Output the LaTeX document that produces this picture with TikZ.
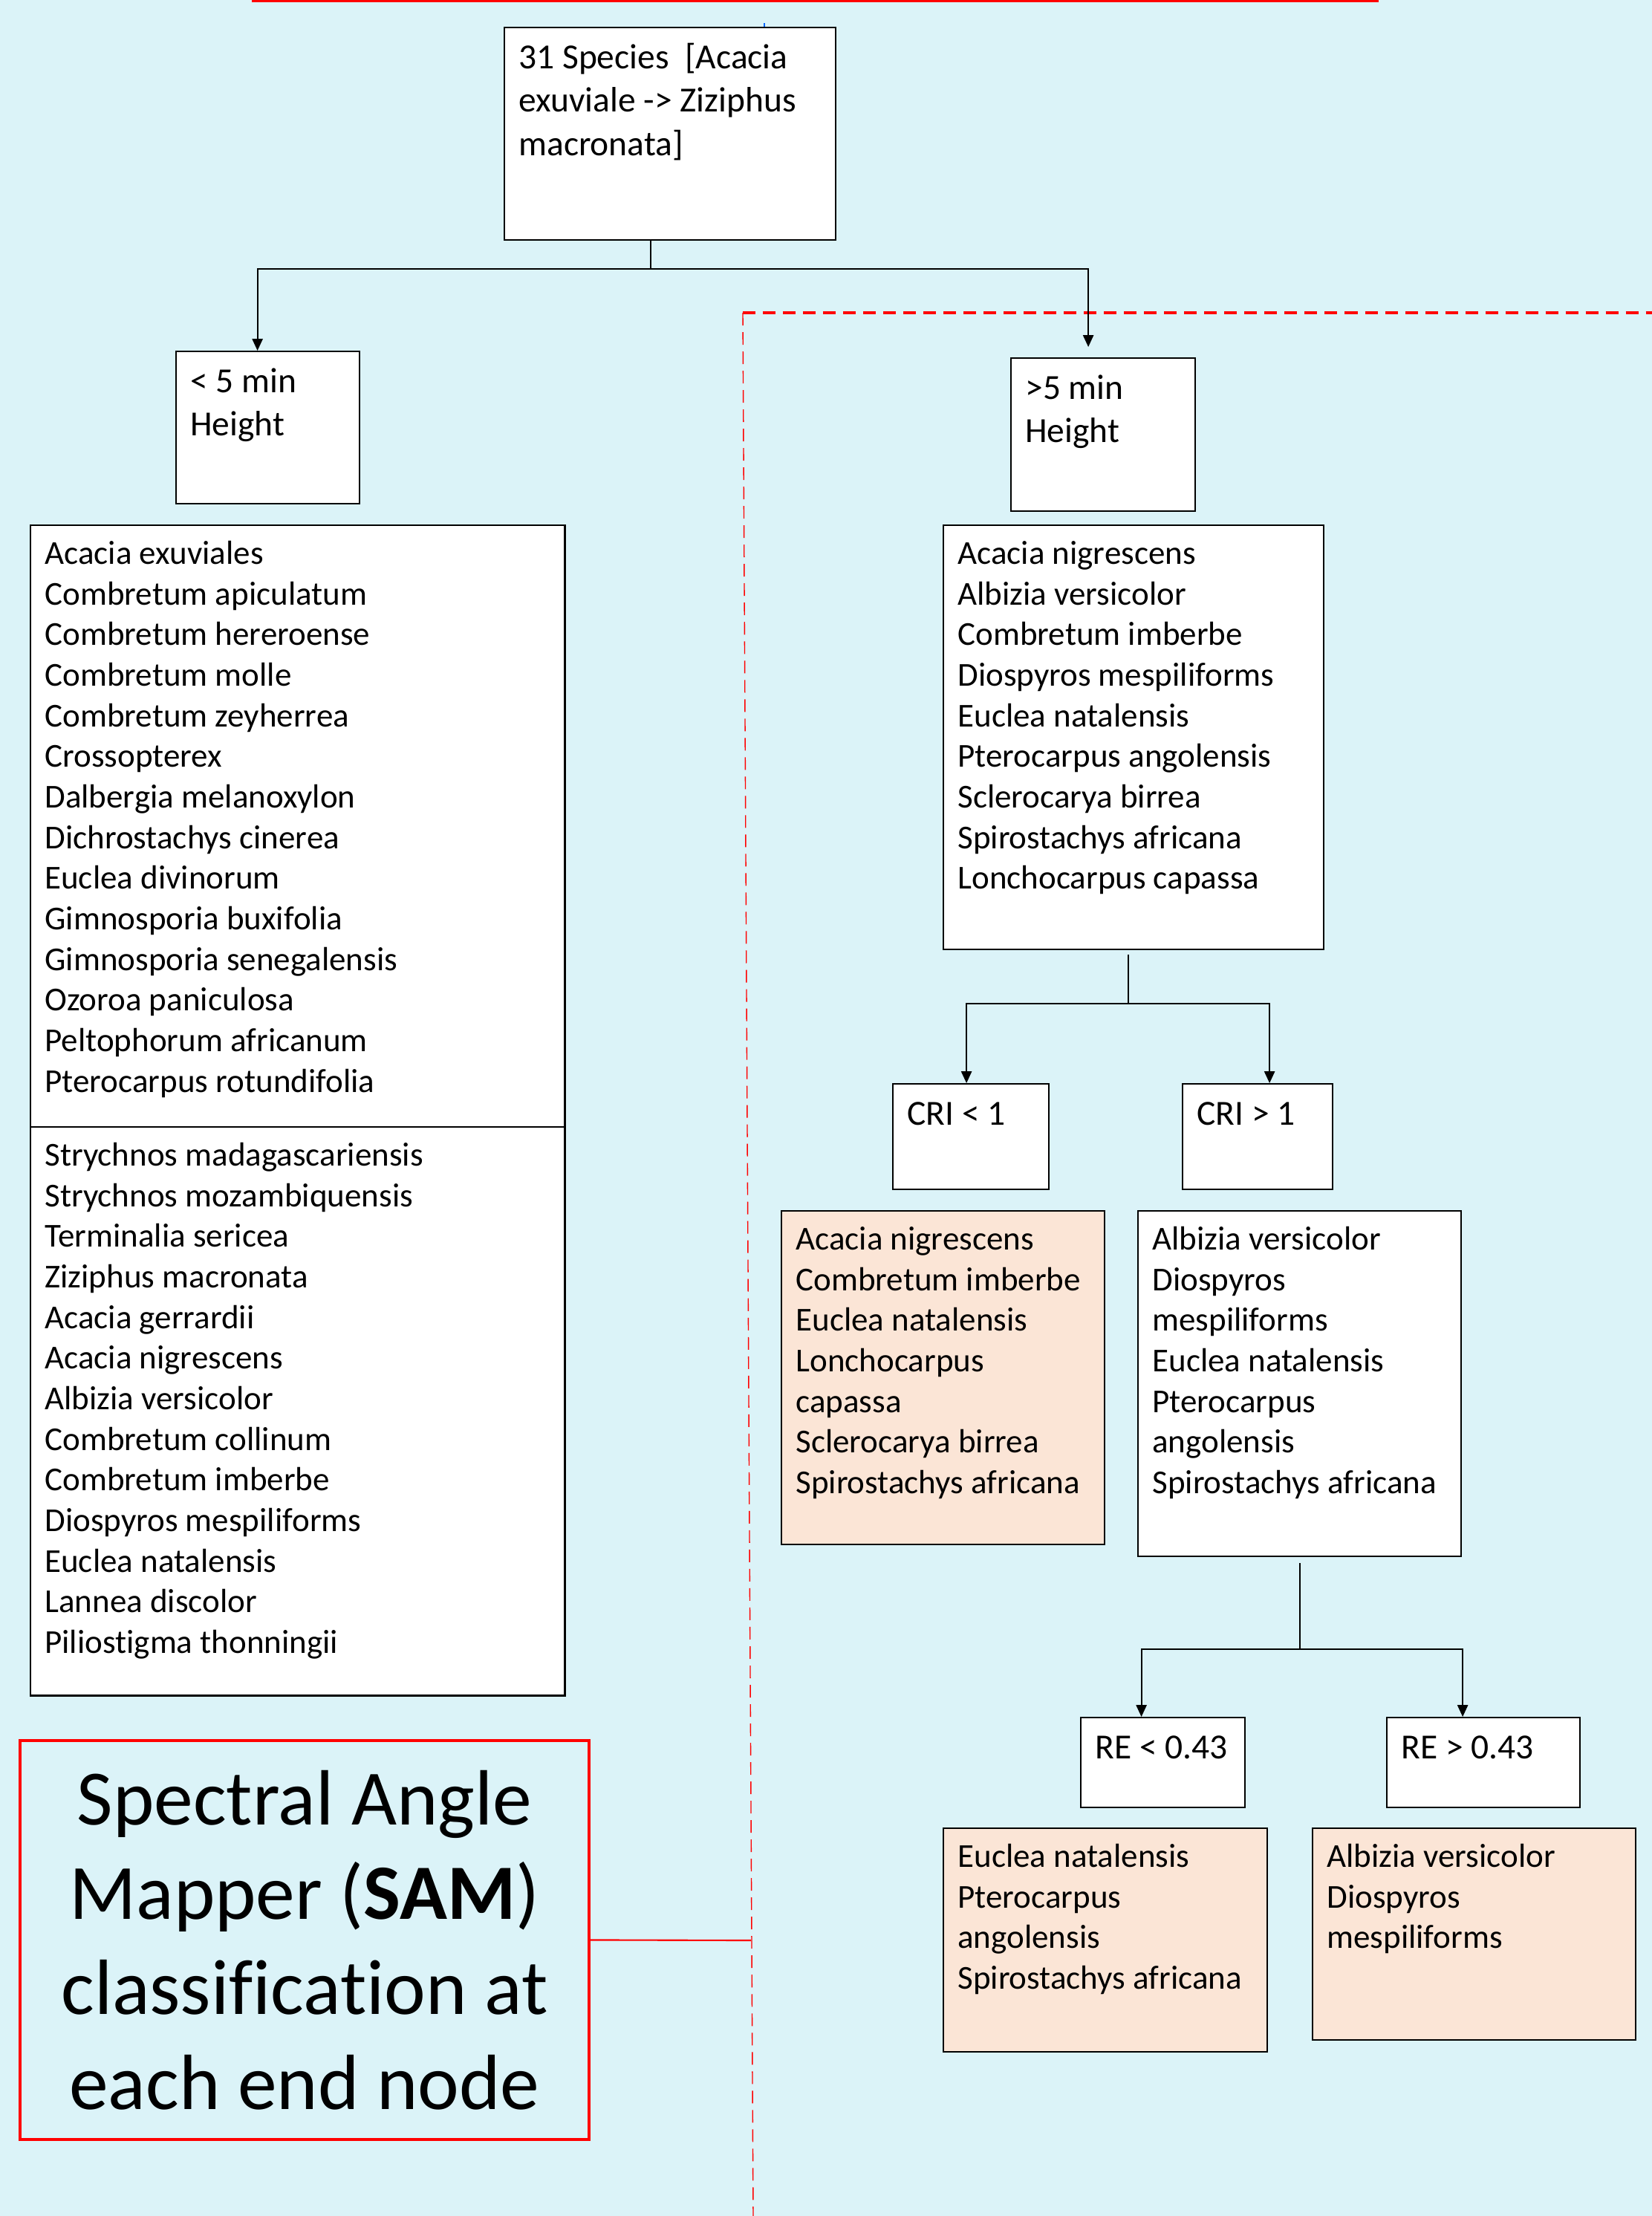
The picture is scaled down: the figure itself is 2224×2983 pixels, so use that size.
\documentclass[tikz,border=0pt]{standalone}
\usepackage{fontspec}
\setmainfont{Carlito}[Ligatures={TeX,NoCommon}]
\usetikzlibrary{arrows.meta}
\definecolor{bgcyan}{RGB}{219,243,248}
\definecolor{peach}{RGB}{251,229,214}
% top aligned text inside a box of given width and height (cm)
\newcommand{\boxtext}[3]{\parbox[t][\dimexpr#2cm-8pt\relax][t]{\dimexpr#1cm-11pt\relax}{\raggedright\strut#3}}

\begin{document}
\begin{tikzpicture}[x=0.01cm, y=-0.01cm,
  box/.style={draw, fill=white, anchor=north west, inner xsep=5.5pt, inner ysep=4pt, line width=0.6pt},
  lst/.style={font=\fontsize{12.8}{15.55}\selectfont},
  hdr/.style={font=\fontsize{13.5}{16.7}\selectfont},
  arr/.style={-{Triangle[length=4.5pt,width=4pt]}, line width=0.6pt}]
  \fill[bgcyan] (0,0) rectangle (2224,2983);
  \useasboundingbox (0,0) rectangle (2224,2983);

  \draw[red, line width=1.2pt] (339,1) -- (1856,1);
  \draw[blue!60!cyan, line width=0.3pt] (1029,31) -- (1029,36);

  % red region of the tall trees
  \draw[red, line width=1.4pt, dash pattern=on 0.17cm off 0.1cm] (1000,421) -- (2224,421);
  \draw[red, line width=0.4pt, dash pattern=on 0.17cm off 0.09cm] (1000,421) -- (1014,2983);

  \node[box, hdr] (root) at (678,36) {\boxtext{4.46}{2.86}{31 Species\ \ [Acacia\\exuviale -> Ziziphus\\macronata]}};
  \node[box, hdr] (lt) at (236,472) {\boxtext{2.47}{2.05}{< 5 min\\Height}};
  \node[box, hdr] (rt) at (1360,481) {\boxtext{2.48}{2.06}{>5 min\\Height}};

  \node[box, lst] (lista) at (40,706) {\boxtext{7.19}{8.10}{Acacia exuviales\\Combretum apiculatum\\Combretum hereroense\\Combretum molle\\Combretum zeyherrea\\Crossopterex\\Dalbergia melanoxylon\\Dichrostachys cinerea\\Euclea divinorum\\Gimnosporia buxifolia\\Gimnosporia senegalensis\\Ozoroa paniculosa\\Peltophorum africanum\\Pterocarpus rotundifolia}};
  \node[box, lst] (listb) at (40,1516) {\boxtext{7.19}{7.65}{Strychnos madagascariensis\\Strychnos mozambiquensis\\Terminalia sericea\\Ziziphus macronata\\Acacia gerrardii\\Acacia nigrescens\\Albizia versicolor\\Combretum collinum\\Combretum imberbe\\Diospyros mespiliforms\\Euclea natalensis\\Lannea discolor\\Piliostigma thonningii}};

  \node[box, lst] (listr) at (1269,706) {\boxtext{5.12}{5.71}{Acacia nigrescens\\Albizia versicolor\\Combretum imberbe\\Diospyros mespiliforms\\Euclea natalensis\\Pterocarpus angolensis\\Sclerocarya birrea\\Spirostachys africana\\Lonchocarpus capassa}};

  \node[box, hdr] (crilo) at (1201,1458) {\boxtext{2.10}{1.42}{CRI < 1}};
  \node[box, hdr] (crihi) at (1591,1458) {\boxtext{2.02}{1.42}{CRI > 1}};

  \node[box, lst, fill=peach] (grpa) at (1051,1629) {\boxtext{4.35}{4.49}{Acacia nigrescens\\Combretum imberbe\\Euclea natalensis\\Lonchocarpus\\capassa\\Sclerocarya birrea\\Spirostachys africana}};
  \node[box, lst] (grpb) at (1531,1629) {\boxtext{4.35}{4.65}{Albizia versicolor\\Diospyros\\mespiliforms\\Euclea natalensis\\Pterocarpus\\angolensis\\Spirostachys africana}};

  \node[box, hdr] (relo) at (1454,2311) {\boxtext{2.21}{1.21}{RE < 0.43}};
  \node[box, hdr] (rehi) at (1866,2311) {\boxtext{2.60}{1.21}{RE > 0.43}};

  \node[box, lst, fill=peach] (enda) at (1269,2460) {\boxtext{4.36}{3.01}{Euclea natalensis\\Pterocarpus\\angolensis\\Spirostachys africana}};
  \node[box, lst, fill=peach] (endb) at (1766,2460) {\boxtext{4.35}{2.85}{Albizia versicolor\\Diospyros\\mespiliforms}};

  \node[draw=red, line width=1pt, anchor=north west, minimum width=7.66cm, minimum height=5.37cm, inner sep=0pt, align=center, font=\fontsize{30}{36.3}\selectfont] (sam) at (25,2341) {Spectral Angle\\Mapper (\textbf{SAM})\\classification at\\each end node};

  % connectors
  \coordinate (j0) at (876,362);
  \coordinate (j1) at (1519,1351);
  \coordinate (j2) at (1750,2220);
  \coordinate (cut) at (1011,2612);
  \draw[line width=0.6pt] (root.south -| j0) -- (j0);
  \draw[arr] (j0) -| ([xshift=-0.14cm]lt.north);
  \draw[arr, shorten >=0.14cm] (j0) -| ([xshift=-0.2cm]rt.north);
  \draw[line width=0.6pt] ([yshift=-0.06cm]listr.south -| j1) -- (j1);
  \draw[arr] (j1) -| ([xshift=-0.06cm]crilo.north);
  \draw[arr] (j1) -| ([xshift=0.16cm]crihi.north);
  \draw[line width=0.6pt] ([yshift=-0.08cm]grpb.south -| j2) -- (j2);
  \draw[arr] (j2) -| ([xshift=-0.29cm]relo.north);
  \draw[arr] (j2) -| ([xshift=-0.28cm]rehi.north);
  \draw[red, line width=0.6pt] (sam.east) -- (cut);
\end{tikzpicture}
\end{document}
